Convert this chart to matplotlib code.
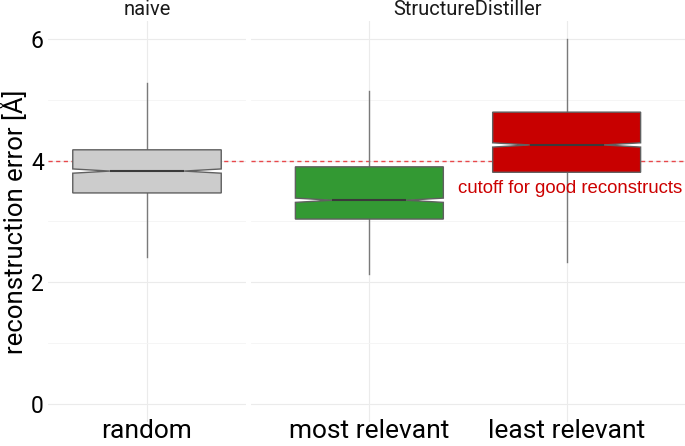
import matplotlib.pyplot as plt

# box statistics (reconstruction error, Angstrom)
naive_labels = ['random']
naive_med = [3.83]
naive_q1 = [3.47]
naive_q3 = [4.18]
naive_lo = [2.42]
naive_hi = [5.28]
naive_colors = ['#CCCCCC']

sd_labels = ['most relevant', 'least relevant']
sd_med = [3.35, 4.26]
sd_q1 = [3.04, 3.81]
sd_q3 = [3.90, 4.80]
sd_lo = [2.14, 2.33]
sd_hi = [5.15, 6.00]
sd_colors = ['#339933', '#C80000']

notch_half = 0.035
cutoff = 4
facets = ['naive', 'StructureDistiller']

fig = plt.figure(figsize=(6.85, 4.46), dpi=100)
ax1 = fig.add_axes([48/685, 24/446, 198/685, 401/446])
ax2 = fig.add_axes([251/685, 24/446, 434/685, 401/446])


def make_stats(labels, med, q1, q3, lo, hi):
    out = []
    for i in range(len(labels)):
        out.append(dict(label=labels[i], med=med[i], q1=q1[i], q3=q3[i],
                        whislo=lo[i], whishi=hi[i], fliers=[],
                        cilo=med[i] - notch_half, cihi=med[i] + notch_half))
    return out


def draw(ax, stats, colors, width, title):
    pos = list(range(1, len(stats) + 1))
    b = ax.bxp(stats, positions=pos, widths=width, shownotches=True, patch_artist=True,
               showcaps=False, showfliers=False,
               boxprops=dict(edgecolor='#606060', linewidth=1.0),
               whiskerprops=dict(color='#7a7a7a', linewidth=1.0),
               medianprops=dict(color='#3a3a3a', linewidth=1.5))
    for patch, c in zip(b['boxes'], colors):
        patch.set_facecolor(c)
        patch.set_zorder(3)
    for m in b['medians']:
        m.set_zorder(4)
    ax.axhline(cutoff, color='#E8484B', linestyle=(0, (3, 2.5)), linewidth=1.0, zorder=1)
    ax.set_xlim(0.4, len(stats) + 0.6)
    ax.set_ylim(-0.3, 6.3)
    ax.set_yticks([0, 2, 4, 6])
    ax.set_yticks([1, 3, 5], minor=True)
    ax.set_xticks(pos)
    ax.set_xticklabels([s['label'] for s in stats], fontsize=19, family='Roboto')
    ax.grid(True, which='major', color='#EBEBEB', linewidth=0.8, zorder=0)
    ax.grid(True, which='minor', axis='y', color='#F4F4F4', linewidth=0.6, zorder=0)
    ax.set_axisbelow(True)
    for sp in ax.spines.values():
        sp.set_visible(False)
    ax.tick_params(which='both', length=0)
    ax.tick_params(axis='x', pad=-2.5)
    ax.set_title(title, fontsize=14.5, family='Roboto', color='#1a1a1a', pad=4)


draw(ax1, make_stats(naive_labels, naive_med, naive_q1, naive_q3, naive_lo, naive_hi),
     naive_colors, 0.9, facets[0])
draw(ax2, make_stats(sd_labels, sd_med, sd_q1, sd_q3, sd_lo, sd_hi),
     sd_colors, 0.75, facets[1])

ax1.set_yticklabels(['0', '2', '4', '6'], fontsize=16.5, family='Roboto')
ax1.tick_params(axis='y', pad=3)
ax1.set_ylabel('reconstruction error [Å]', fontsize=18.5, family='Roboto', labelpad=2)
ax2.set_yticklabels([])

ax2.text(1.45, 3.55, 'cutoff for good reconstructs', color='#CC0000',
         fontsize=13.4, family='Liberation Sans', ha='left', va='center',
         clip_on=False, zorder=5)

fig.savefig('out.png', dpi=100)
